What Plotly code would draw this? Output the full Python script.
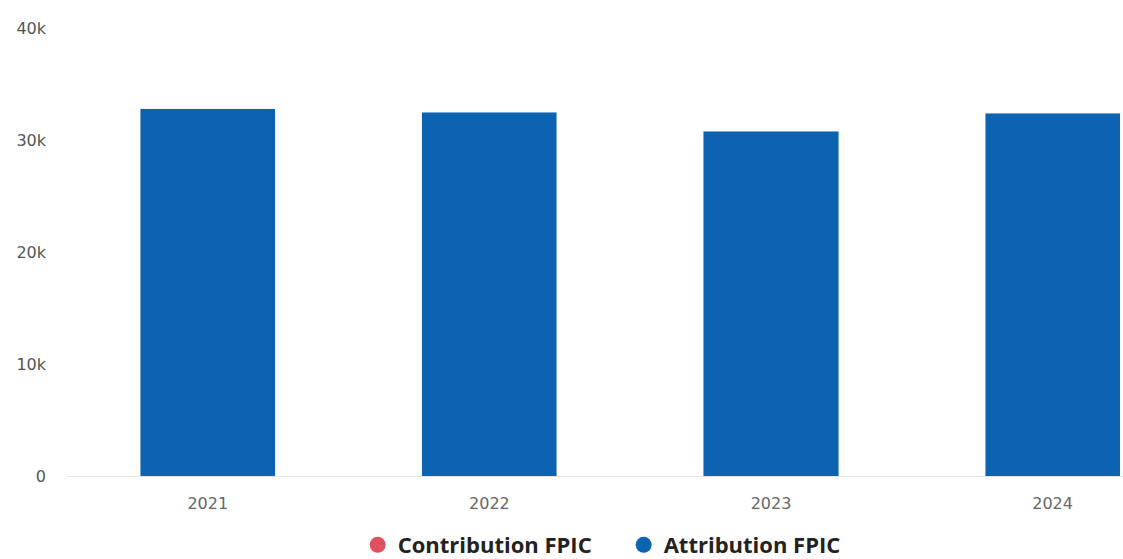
import plotly.graph_objects as go

years = ["2021", "2022", "2023", "2024"]
attribution_fpic = [32800, 32500, 30800, 32400]
contribution_fpic = [0, 0, 0, 0]
y_ticks = [0, 10000, 20000, 30000, 40000]
y_tick_labels = ["0", "10k", "20k", "30k", "40k"]

blue = "#0b63b1"
red = "#e0505f"

fig = go.Figure()
fig.add_trace(go.Bar(x=years, y=contribution_fpic, name="Contribution FPIC",
                     marker_color=red, showlegend=False))
fig.add_trace(go.Bar(x=years, y=attribution_fpic, name="Attribution FPIC",
                     marker_color=blue, showlegend=False))

# legend entries drawn as circles
for name, col in [("Contribution FPIC", red), ("Attribution FPIC", blue)]:
    fig.add_trace(go.Scatter(x=[None], y=[None], mode="markers", name=name,
                             marker=dict(symbol="circle", size=18, color=col)))

fig.update_layout(
    width=1123, height=559,
    barmode="stack",
    bargap=0.52,
    plot_bgcolor="white", paper_bgcolor="white",
    margin=dict(l=67, r=0, t=28, b=83, autoexpand=False),
    font=dict(family="DejaVu Sans", color="#555555"),
    legend=dict(orientation="h", traceorder="normal",
                x=0.3185, xanchor="left", xref="container",
                y=0.025, yanchor="middle", yref="container",
                font=dict(family="Open Sans", size=22, color="#222222", weight="bold"),
                itemwidth=30, tracegroupgap=0,
                entrywidth=221, entrywidthmode="pixels"),
    xaxis=dict(type="category", range=[-0.5, 3.25], showgrid=False, showline=False,
               tickfont=dict(size=16, color="#666666"), ticks="", ticklen=0,
               ticklabelstandoff=16),
    yaxis=dict(range=[0, 40000], tickvals=y_ticks, ticktext=y_tick_labels,
               showgrid=False, zeroline=True, zerolinecolor="#e6e6e6", zerolinewidth=1,
               tickfont=dict(size=16, color="#555555"), ticklabelstandoff=20),
)

fig.write_html("out.html")
